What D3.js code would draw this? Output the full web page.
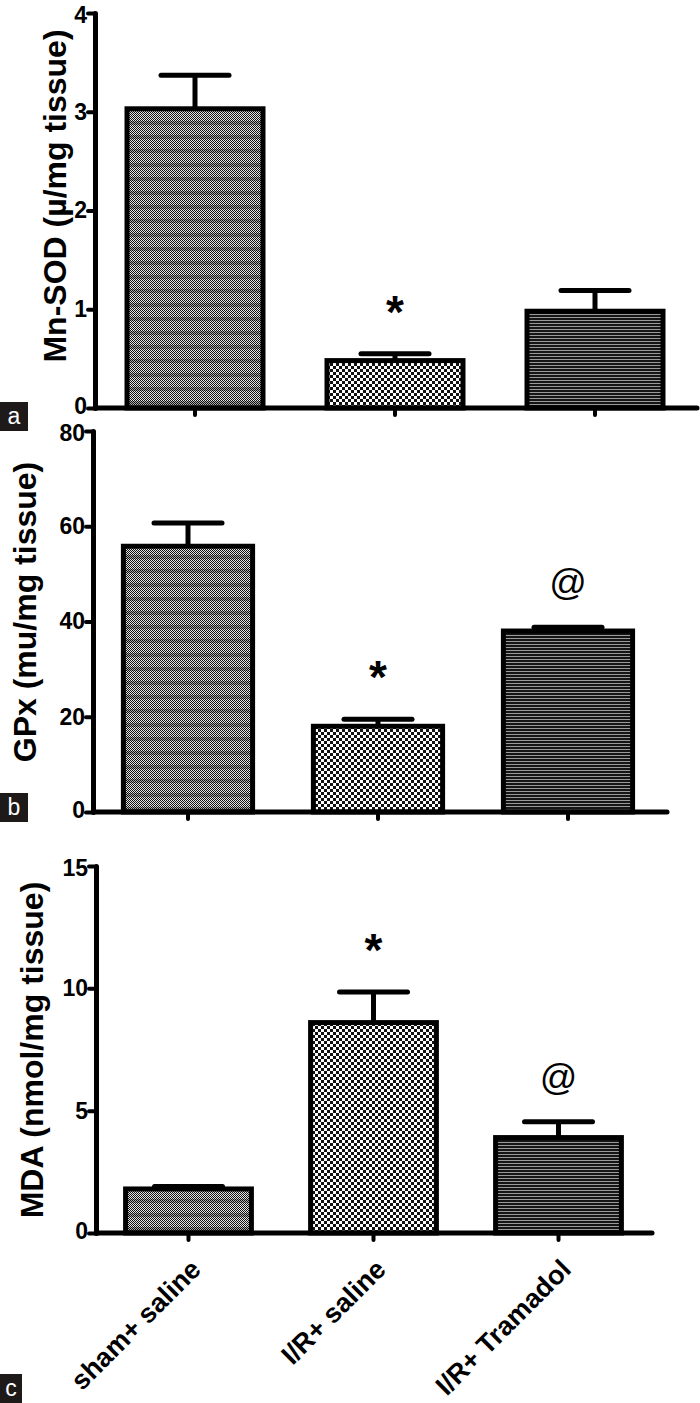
<!DOCTYPE html>
<html>
<head>
<meta charset="utf-8">
<script src="https://cdn.jsdelivr.net/npm/d3@7"></script>
<style>
  body { margin: 0; background: #fff; }
  text { font-family: "Liberation Sans", Arial, sans-serif; }
</style>
</head>
<body>
<svg id="chart"></svg>
<script>
// three stacked bar panels, same groups, different assays
let width  = 700,
    height = 1403;

let categories = ['sham+ saline', 'I/R+ saline', 'I/R+ Tramadol'];

let mnSod    = [3.03, 0.48, 0.98],
    mnSodErr = [0.34, 0.07, 0.21],
    mnSodMarks = ['', '*', ''],
    mnSodTicks = [0, 1, 2, 3, 4];

let gpx    = [55.8, 18.0, 38.0],
    gpxErr = [4.9, 1.5, 0.8],
    gpxMarks = ['', '*', '@'],
    gpxTicks = [0, 20, 40, 60, 80];

let mda    = [1.8, 8.6, 3.9],
    mdaErr = [0.1, 1.25, 0.65],
    mdaMarks = ['', '*', '@'],
    mdaTicks = [0, 5, 10, 15];

let fills = ['url(#dots)', 'url(#checks)', 'url(#stripes)'];

let svg = d3.select('#chart')
    .attr('width', width)
    .attr('height', height);

// fill patterns
let defs = svg.append('defs');

let dots = defs.append('pattern')
    .attr('id', 'dots')
    .attr('patternUnits', 'userSpaceOnUse')
    .attr('width', 2)
    .attr('height', 14);
dots.append('rect').attr('width', 2).attr('height', 14).attr('fill', '#e6e6e6');
for (let r = 0; r < 14; r++) {
    dots.append('rect')
        .attr('x', r % 2).attr('y', r)
        .attr('width', 1).attr('height', 1)
        .attr('fill', '#111');
}
dots.append('rect').attr('y', 9).attr('width', 2).attr('height', 4)
    .attr('fill', '#000').attr('opacity', 0.25);

let checks = defs.append('pattern')
    .attr('id', 'checks')
    .attr('patternUnits', 'userSpaceOnUse')
    .attr('width', 6)
    .attr('height', 6);
checks.append('rect').attr('width', 6).attr('height', 6).attr('fill', '#111');
checks.append('rect').attr('x', 0).attr('y', 0).attr('width', 3).attr('height', 3).attr('fill', '#fff');
checks.append('rect').attr('x', 3).attr('y', 3).attr('width', 3).attr('height', 3).attr('fill', '#fff');

let stripes = defs.append('pattern')
    .attr('id', 'stripes')
    .attr('patternUnits', 'userSpaceOnUse')
    .attr('width', 4)
    .attr('height', 3);
stripes.append('rect').attr('width', 4).attr('height', 3).attr('fill', '#151515');
stripes.append('rect').attr('y', 2).attr('width', 4).attr('height', 1).attr('fill', '#9a9a9a');

function drawPanel(p) {
    let g = svg.append('g');

    let x = d3.scaleBand()
        .domain(categories)
        .range([p.left, p.right])
        .paddingInner(0.32)
        .paddingOuter(0.16);

    let y = d3.scaleLinear()
        .domain([0, d3.max(p.ticks)])
        .range([p.bottom, p.top]);

    // bars
    g.selectAll('rect.bar')
      .data(p.values)
      .enter()
      .append('rect')
        .attr('class', 'bar')
        .attr('x', (d, i) => x(categories[i]))
        .attr('y', d => y(d))
        .attr('width', x.bandwidth())
        .attr('height', d => y(0) - y(d))
        .attr('fill', (d, i) => fills[i])
        .attr('stroke', '#000')
        .attr('stroke-width', 5);

    // error bars
    let cx = i => x(categories[i]) + x.bandwidth() / 2;
    g.selectAll('line.err')
      .data(p.values)
      .enter()
      .append('line')
        .attr('x1', (d, i) => cx(i))
        .attr('x2', (d, i) => cx(i))
        .attr('y1', d => y(d))
        .attr('y2', (d, i) => y(d + p.errors[i]))
        .attr('stroke', '#000')
        .attr('stroke-width', 5);
    g.selectAll('line.cap')
      .data(p.values)
      .enter()
      .append('line')
        .attr('x1', (d, i) => cx(i) - 34)
        .attr('x2', (d, i) => cx(i) + 34)
        .attr('y1', (d, i) => y(d + p.errors[i]))
        .attr('y2', (d, i) => y(d + p.errors[i]))
        .attr('stroke', '#000')
        .attr('stroke-width', 5)
        .attr('stroke-linecap', 'round');

    // significance marks
    g.selectAll('text.mark')
      .data(p.marks)
      .enter()
      .append('text')
        .attr('x', (d, i) => cx(i))
        .attr('y', (d, i) => y(p.values[i] + p.errors[i]) - (d === '*' ? 26 : 32))
        .attr('text-anchor', 'middle')
        .attr('font-size', d => d === '*' ? 46 : 37)
        .attr('font-weight', d => d === '*' ? 'bold' : 'normal')
        .text(d => d);

    // axes
    let yAxis = d3.axisLeft(y)
        .tickValues(p.ticks)
        .tickFormat(d3.format('d'))
        .tickSize(7)
        .tickPadding(1)
        .tickSizeOuter(0);
    let ya = g.append('g')
        .attr('transform', `translate(${p.left}, 0)`)
        .call(yAxis);
    ya.select('.domain').attr('stroke-width', 5).attr('stroke-linecap', 'round');
    ya.selectAll('.tick line').attr('stroke-width', 4).attr('stroke-linecap', 'round');
    ya.selectAll('.tick text')
        .attr('font-size', 23)
        .attr('font-weight', 'bold')
        .attr('font-family', '"Liberation Sans", Arial, sans-serif')
        .attr('fill', '#000');
    // nudge the end labels so neighbouring panels' labels don't collide
    ya.selectAll('.tick text')
        .filter(d => d === 0)
        .attr('dy', '0.22em');
    ya.selectAll('.tick text')
        .filter(d => d === d3.max(p.ticks))
        .attr('dy', '0.42em');

    let xAxis = d3.axisBottom(x)
        .tickSize(7)
        .tickSizeOuter(0);
    let xa = g.append('g')
        .attr('transform', `translate(0, ${p.bottom})`)
        .call(xAxis);
    xa.select('.domain')
        .attr('d', `M${p.left},0H${p.axisEnd}`)
        .attr('stroke-width', 5)
        .attr('stroke-linecap', 'round');
    xa.selectAll('.tick line').attr('stroke-width', 4).attr('stroke-linecap', 'round');
    if (p.showLabels) {
        xa.selectAll('.tick text')
            .attr('font-size', 27)
            .attr('font-weight', 'bold')
            .attr('font-family', '"Liberation Sans", Arial, sans-serif')
            .attr('fill', '#000')
            .attr('text-anchor', 'end')
            .attr('dy', null)
            .attr('y', null)
            .attr('transform', 'translate(14, 38) rotate(-45)');
    } else {
        xa.selectAll('.tick text').remove();
    }

    // y title
    g.append('text')
        .attr('transform', `translate(${p.titleX}, ${p.titleY}) rotate(-90)`)
        .attr('text-anchor', 'middle')
        .attr('font-size', 32)
        .attr('font-weight', 'bold')
        .text(p.title);

    // panel letter
    g.append('rect')
        .attr('x', 0)
        .attr('y', p.tagY)
        .attr('width', p.tagW)
        .attr('height', 29)
        .attr('fill', '#1e1a1a');
    g.append('text')
        .attr('x', p.tagW / 2)
        .attr('y', p.tagY + 22)
        .attr('text-anchor', 'middle')
        .attr('font-size', 23)
        .attr('fill', '#fff')
        .text(p.tag);
}

drawPanel({
    values: mnSod, errors: mnSodErr, marks: mnSodMarks, ticks: mnSodTicks,
    title: 'Mn-SOD (µ/mg tissue)', tag: 'a',
    left: 95, right: 695, axisEnd: 697, top: 13, bottom: 408,
    titleX: 66, titleY: 196, tagY: 402, tagW: 28, showLabels: false
});

drawPanel({
    values: gpx, errors: gpxErr, marks: gpxMarks, ticks: gpxTicks,
    title: 'GPx (mu/mg tissue)', tag: 'b',
    left: 93, right: 663, axisEnd: 667, top: 431, bottom: 812,
    titleX: 36, titleY: 612, tagY: 793, tagW: 28, showLabels: false
});

drawPanel({
    values: mda, errors: mdaErr, marks: mdaMarks, ticks: mdaTicks,
    title: 'MDA (nmol/mg tissue)', tag: 'c',
    left: 96, right: 651, axisEnd: 652, top: 866, bottom: 1233,
    titleX: 43, titleY: 1050, tagY: 1374, tagW: 22, showLabels: true
});
</script>
</body>
</html>
